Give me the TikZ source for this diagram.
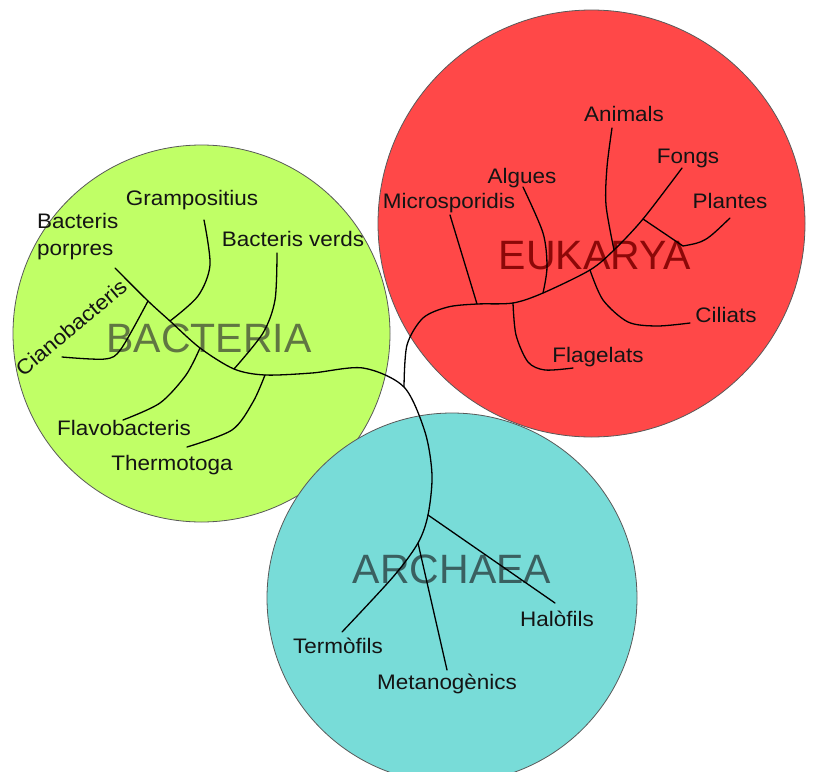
\documentclass[tikz,border=0pt]{standalone}
\usepackage{fontspec}
\setmainfont{Liberation Sans}
\newfontfamily\labfont[FakeStretch=1.07]{Liberation Sans}
\definecolor{limec}{RGB}{192,255,102}
\definecolor{redc}{RGB}{255,72,72}
\definecolor{tealc}{RGB}{120,220,216}
\definecolor{bactxt}{RGB}{96,118,66}
\definecolor{eukxt}{RGB}{140,8,8}
\definecolor{arcxt}{RGB}{58,96,96}
\tikzset{
  domcircle/.style={circle, draw=black!65, line width=0.8pt, inner sep=0pt},
  bigtitle/.style={font=\fontsize{41}{44}\selectfont, inner sep=0pt, anchor=base},
  lab/.style={font=\labfont\fontsize{21}{27}\selectfont, text=black!92, inner sep=0pt, anchor=base},
  branch/.style={line width=1.3pt, black, line cap=round, line join=round},
}
\begin{document}
\begin{tikzpicture}[x=1pt,y=-1pt]
\clip (0,0) rectangle (813,771);
\fill[white] (0,0) rectangle (813,771);
% domains
\node[domcircle, fill=limec, minimum size=377pt] (bact) at (201.5,333.5) {};
\node[domcircle, fill=redc, minimum size=427pt] (euk) at (591.5,223.5) {};
\node[domcircle, fill=tealc, minimum size=370pt] (arch) at (452,598) {};
% titles
\node[bigtitle, text=bactxt] (tB) at (209,352) {BACTERIA};
\node[bigtitle, text=eukxt] (tE) at (595,269) {EUKARYA};
\node[bigtitle, text=arcxt] (tA) at (452,583) {ARCHAEA};
% junctions
\coordinate (bP) at (115,268);
\coordinate (bJ1) at (148,301);
\coordinate (bJ2) at (170,321);
\coordinate (bJ3) at (200,348);
\coordinate (bJ4) at (234,369);
\coordinate (bJ5) at (265,375);
\coordinate (jE) at (404,387);
\coordinate (aH) at (428,515);
\coordinate (aM) at (418,543);
\coordinate (aT) at (342,632);
\coordinate (eMi) at (477,304);
\coordinate (eFl) at (513,303);
\coordinate (eAl) at (543,293);
\coordinate (eCi) at (590,270);
\coordinate (eAn) at (614,250);
\coordinate (ePl) at (643,219);
\coordinate (eF) at (682,168);
\coordinate (pV) at (683,246);
% bacteria + archaea trunk
\draw[branch] plot[smooth, tension=0.5] coordinates {(bP) (bJ1) (bJ2) (bJ3) (bJ4) (bJ5) (312,373) (363,368) (jE) (425,432) (432,475) (aH) (aM) (393,577) (aT)};
% eukarya trunk
\draw[branch] plot[smooth, tension=0.5] coordinates {(jE) (407,345) (423,318) (448,307) (eMi) (eFl) (eAl) (eCi) (eAn) (ePl) (eF)};
% bacteria branches
\draw[branch] plot[smooth, tension=0.5] coordinates {(62,357) (105,359) (121,349) (bJ1)};
\draw[branch] plot[smooth, tension=0.5] coordinates {(204,220) (210,265) (198,296) (bJ2)};
\draw[branch] plot[smooth, tension=0.5] coordinates {(123,420) (160,403) (186,375) (bJ3)};
\draw[branch] plot[smooth, tension=0.5] coordinates {(277,253) (275,300) (263,333) (bJ4)};
\draw[branch] plot[smooth, tension=0.5] coordinates {(187,447) (232,430) (253,402) (bJ5)};
% eukarya branches
\draw[branch] (450,215) -- (eMi);
\draw[branch] plot[smooth, tension=0.5] coordinates {(523,187) (543,233) (547,267) (eAl)};
\draw[branch] plot[smooth, tension=0.5] coordinates {(eFl) (516,335) (528,362) (545,370) (573,368)};
\draw[branch] plot[smooth, tension=0.5] coordinates {(eCi) (603,300) (628,322) (657,326) (690,323)};
\draw[branch] plot[smooth, tension=0.5] coordinates {(612,128) (607,167) (606,205) (eAn)};
\draw[branch] (ePl) -- (pV) .. controls (705,242) .. (730,218);
% archaea branches
\draw[branch] (aH) -- (555,603);
\draw[branch] (aM) -- (447,670);
% labels
\node[lab] (lGr) at (192,205) {Grampositius};
\node[lab] (lBv) at (293,246) {Bacteris verds};
\node[lab, anchor=base west, align=left] (lBp) at (37,255) {Bacteris\\porpres};
\node[lab, rotate=40] (lCi) at (76,333) {Cianobacteris};
\node[lab] (lFl) at (124,435) {Flavobacteris};
\node[lab] (lTh) at (172,470) {Thermotoga};
\node[lab] (lAn) at (624,121) {Animals};
\node[lab] (lFo) at (688,163) {Fongs};
\node[lab] (lAl) at (522,183) {Algues};
\node[lab] (lMi) at (449,208) {Microsporidis};
\node[lab] (lPl) at (730,208) {Plantes};
\node[lab] (lCil) at (726,322) {Ciliats};
\node[lab] (lFg) at (598,362) {Flagelats};
\node[lab] (lHa) at (557,626) {Halòfils};
\node[lab] (lTe) at (338,653) {Termòfils};
\node[lab] (lMe) at (447,689) {Metanogènics};
\end{tikzpicture}
\end{document}
